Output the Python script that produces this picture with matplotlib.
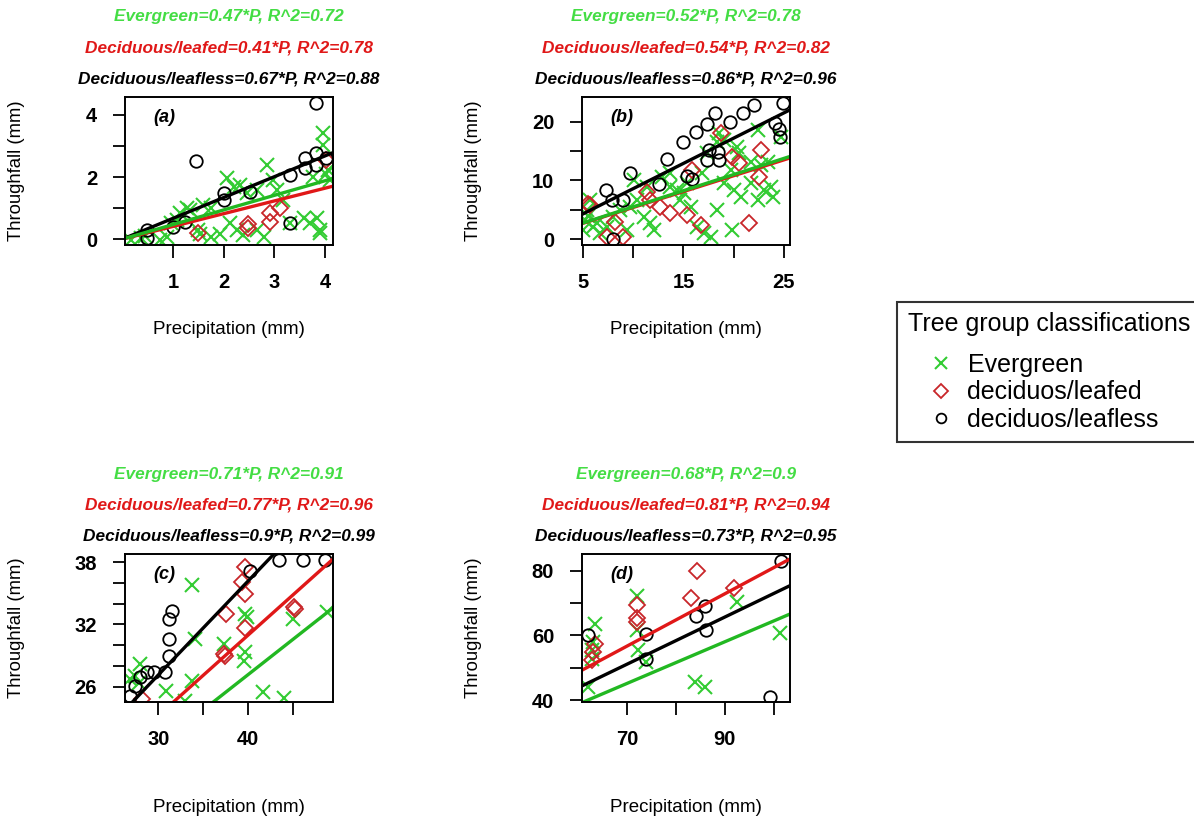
import numpy as np
import matplotlib.pyplot as plt
from matplotlib.lines import Line2D

plt.rcParams['font.family'] = ['Liberation Sans', 'DejaVu Sans']

# ---- panel (a)
a_ever_x = [0.16, 0.36, 0.75, 0.88, 1.14, 1.34, 1.54, 1.74, 1.93, 2.06, 2.2, 2.33, 2.13, 2.26, 2.39,
            2.66, 2.79, 2.85, 2.98, 3.05, 3.18, 3.58, 3.71, 3.84, 3.91, 3.97, 3.97, 4.07, 4.1, 3.77,
            1.28, 1.6, 1.74, 2.46, 2.66, 1.08, 0.95, 0.45, 1.5, 3.31, 4.02, 3.9]
a_ever_y = [-0.03, 0.02, -0.03, 0.07, 0.83, 0.94, 0.18, 0.07, 0.18, 1.96, 1.69, 1.74, 0.51, 0.29, 0.13,
            0.29, 0.07, 2.39, 1.9, 1.58, 1.26, 0.67, 0.51, 0.67, 0.29, 3.41, 3.03, 2.23, 1.9, 2.01,
            0.99, 1.1, 0.99, 1.47, 1.58, 0.61, 0.51, 0.1, 0.3, 0.53, 2.1, 0.2]
a_leafed_x = [1.49, 2.49, 2.49, 2.92, 2.92, 3.12, 4.02]
a_leafed_y = [0.2, 0.5, 0.35, 0.83, 0.56, 0.99, 2.55]
a_leafless_x = [3.82, 1.46, 0.49, 0.49, 1.0, 1.24, 2.0, 2.0, 2.52, 3.31, 3.31, 3.61, 3.61, 3.82, 3.82, 4.02]
a_leafless_y = [4.40, 2.52, 0.29, 0.03, 0.39, 0.56, 1.47, 1.26, 1.53, 2.06, 0.53, 2.6, 2.28, 2.76, 2.39, 2.6]

# ---- panel (b)
b_ever_x = [5.03, 5.2, 5.37, 5.7, 6.37, 6.7, 7.37, 8.03, 8.7, 9.37, 9.7, 10.37, 11.03, 11.7, 12.03,
            11.37, 13.7, 14.37, 14.7, 15.03, 15.37, 15.7, 16.37, 17.03, 17.7, 18.37, 19.03, 19.7, 20.03,
            20.7, 21.7, 22.37, 23.03, 23.7, 23.87, 18.53, 19.03, 18.37, 22.37, 23.37, 20.37, 20.53,
            24.7, 21.7, 22.7, 17.37, 16.87, 13.7, 12.87, 10.03, 19.87, 5.5, 6.0]
b_ever_y = [1.53, 3.23, 4.94, 6.64, 2.67, 0.96, 2.1, 3.8, 4.94, 1.53, 5.51, 6.64, 3.8, 2.67, 1.53,
            8.91, 8.91, 8.35, 6.64, 7.78, 9.48, 5.51, 2.1, 0.96, 0.4, 4.94, 9.48, 11.75, 8.35,
            7.21, 9.48, 6.64, 8.35, 8.91, 7.21, 18.0, 16.86, 16.58, 18.57, 13.17, 15.73, 14.59,
            17.43, 13.17, 12.6, 14.59, 11.18, 11.18, 10.62, 10.05, 1.53, 4.0, 2.0]
b_leafed_x = [5.53, 5.7, 7.37, 8.2, 9.03, 11.7, 12.7, 13.7, 15.37, 15.87, 16.7, 18.7, 19.87, 20.5,
              22.7, 22.53, 21.53, 11.37]
b_leafed_y = [6.0, 5.8, 0.4, 2.9, 0.4, 6.6, 5.5, 4.4, 4.1, 11.8, 2.4, 18.0, 14.0, 13.0,
              15.2, 10.6, 2.7, 8.1]
b_leafless_x = [24.87, 21.97, 20.97, 19.63, 18.1, 17.3, 16.2, 14.97, 13.37, 9.63, 12.53, 7.3, 7.87,
                9.03, 7.97, 15.37, 15.87, 17.53, 17.37, 18.53, 18.4, 24.1, 24.53, 24.63]
b_leafless_y = [23.2, 22.8, 21.4, 20.0, 21.4, 19.6, 18.3, 16.6, 13.7, 11.3, 9.4, 8.3, 6.6,
                6.6, -0.05, 10.7, 10.2, 15.2, 13.5, 13.5, 14.9, 19.8, 18.7, 17.4]

# ---- panel (c)
c_ever_x = [33.74, 28.0, 27.45, 27.82, 30.89, 34.11, 37.26, 39.67, 39.85, 39.67, 39.52, 44.96,
            48.74, 41.63, 43.93, 33.74, 26.89, 33.0]
c_ever_y = [35.78, 28.2, 27.07, 26.42, 25.62, 30.62, 30.13, 33.04, 32.71, 29.33, 28.52, 32.49,
            33.2, 25.55, 24.97, 26.58, 26.75, 24.6]
c_leafed_x = [39.67, 39.3, 39.67, 37.56, 39.67, 37.33, 37.45, 45.04, 45.22, 28.19]
c_leafed_y = [37.55, 36.1, 34.88, 33.04, 31.65, 29.17, 28.95, 33.68, 33.46, 24.81]
c_leafless_x = [43.37, 46.07, 48.56, 40.22, 31.52, 31.15, 31.15, 31.15, 30.78, 29.48, 28.74,
                28.0, 27.45, 26.89]
c_leafless_y = [38.2, 38.2, 38.2, 37.1, 33.26, 32.49, 30.62, 28.94, 27.46, 27.46, 27.39,
                26.91, 26.1, 25.13]

# ---- panel (d)
d_ever_x = [71.99, 71.99, 72.33, 73.9, 63.43, 63.09, 62.9, 62.06, 83.97, 86.02, 92.52, 101.28, 62.75]
d_ever_y = [72.3, 61.54, 55.38, 51.79, 63.59, 57.95, 55.5, 44.1, 45.64, 44.1, 70.25, 60.82, 52.82]
d_leafed_x = [84.31, 83.08, 91.84, 71.99, 71.99, 71.99, 63.43, 63.09, 62.75]
d_leafed_y = [80.0, 71.5, 74.56, 69.43, 65.33, 64.3, 57.43, 54.87, 52.31]
d_leafless_x = [101.56, 99.23, 86.02, 84.17, 86.23, 73.9, 73.9, 62.06]
d_leafless_y = [83.07, 41.0, 69.02, 65.95, 61.54, 60.51, 52.82, 60.0]

# regression text (as printed) and slope of the line drawn, per panel
ever_text = ['0.47', '0.52', '0.71', '0.68']
ever_r2 = ['0.72', '0.78', '0.91', '0.9']
leafed_text = ['0.41', '0.54', '0.77', '0.81']
leafed_r2 = ['0.78', '0.82', '0.96', '0.94']
leafless_text = ['0.67', '0.86', '0.9', '0.73']
leafless_r2 = ['0.88', '0.96', '0.99', '0.95']
ever_line = [0.47, 0.55, 0.68, 0.645]
leafed_line = [0.41, 0.54, 0.775, 0.81]
leafless_line = [0.67, 0.86, 0.905, 0.73]

tags = ['(a)', '(b)', '(c)', '(d)']
xlims = [(0.05, 4.16), (4.9, 25.6), (26.3, 49.4), (60.8, 103.3)]
ylims = [(-0.19, 4.58), (-1.0, 24.2), (24.55, 38.77), (39.4, 85.2)]
xticks = [[1, 2, 3, 4], [5, 10, 15, 20, 25], [30, 35, 40, 45], [70, 80, 90, 100]]
xticklabels = [['1', '2', '3', '4'], ['5', '', '15', '', '25'], ['30', '', '40', ''], ['70', '', '90', '']]
yticks = [[0, 1, 2, 3, 4], [0, 5, 10, 15, 20], [26, 28, 30, 32, 34, 36, 38], [40, 50, 60, 70, 80]]
yticklabels = [['0', '', '2', '', '4'], ['0', '', '10', '', '20'], ['26', '', '', '32', '', '', '38'],
               ['40', '', '60', '', '80']]

GREEN = '#33cc33'
GREEN_TXT = '#44dd44'
GREEN_LINE = '#22b822'
RED = '#e01818'
RED_MK = '#c8262a'

fig = plt.figure(figsize=(11.94, 8.23), dpi=100)
W, H = 1194, 823
boxes = [(125, 97), (582, 97), (125, 554), (582, 554)]  # left, top in pixels
bw, bh = 208, 148
xlab_off = [85, 85, 106, 106]  # distance of x label below the box, pixels

panels = [
    (a_ever_x, a_ever_y, a_leafed_x, a_leafed_y, a_leafless_x, a_leafless_y),
    (b_ever_x, b_ever_y, b_leafed_x, b_leafed_y, b_leafless_x, b_leafless_y),
    (c_ever_x, c_ever_y, c_leafed_x, c_leafed_y, c_leafless_x, c_leafless_y),
    (d_ever_x, d_ever_y, d_leafed_x, d_leafed_y, d_leafless_x, d_leafless_y),
]

for i, (ex, ey, lx, ly, bx, by) in enumerate(panels):
    left, top = boxes[i]
    ax = fig.add_axes([left / W, 1 - (top + bh) / H, bw / W, bh / H])

    ax.plot(ex, ey, 'x', color=GREEN, ms=10, mew=1.5)
    ax.plot(lx, ly, 'D', mfc='none', mec=RED_MK, ms=8, mew=1.3)
    ax.plot(bx, by, 'o', mfc='none', mec='black', ms=9, mew=1.3)

    xs = np.array(xlims[i])
    ax.plot(xs, leafless_line[i] * xs, color='black', lw=2.4)
    ax.plot(xs, leafed_line[i] * xs, color=RED, lw=2.4)
    ax.plot(xs, ever_line[i] * xs, color=GREEN_LINE, lw=2.4)

    ax.set_xlim(xlims[i])
    ax.set_ylim(ylims[i])
    ax.set_xticks(xticks[i])
    ax.set_xticklabels(xticklabels[i])
    ax.set_yticks(yticks[i])
    ax.set_yticklabels(yticklabels[i])
    ax.tick_params(direction='out', length=9, width=1.3, labelsize=14.5, pad=11)
    for lab in ax.get_xticklabels() + ax.get_yticklabels():
        lab.set_fontweight('bold')
    for sp in ax.spines.values():
        sp.set_linewidth(1.4)

    ax.text(0.135, 0.86, tags[i], transform=ax.transAxes, fontsize=13,
            fontweight='bold', fontstyle='italic', ha='left', va='center')

    ax.set_ylabel('Throughfall (mm)', fontsize=13.3)
    ax.yaxis.set_label_coords(-100 / bw, 0.5)
    ax.set_xlabel('Precipitation (mm)', fontsize=13.5)
    ax.xaxis.set_label_coords(0.5, -xlab_off[i] / bh)
    ax.xaxis.label.set_va('center')

    tk = dict(transform=ax.transAxes, ha='center', va='center', fontsize=12.4,
              fontweight='bold', fontstyle='italic')
    ax.text(0.5, 1 + 80 / bh, 'Evergreen=' + ever_text[i] + '*P, R^2=' + ever_r2[i], color=GREEN_TXT, **tk)
    ax.text(0.5, 1 + 49 / bh, 'Deciduous/leafed=' + leafed_text[i] + '*P, R^2=' + leafed_r2[i], color=RED, **tk)
    ax.text(0.5, 1 + 18 / bh, 'Deciduous/leafless=' + leafless_text[i] + '*P, R^2=' + leafless_r2[i],
            color='black', **tk)

handles = [
    Line2D([], [], ls='none', marker='x', color=GREEN, ms=9, mew=1.5),
    Line2D([], [], ls='none', marker='D', mfc='none', mec=RED_MK, ms=7, mew=1.3),
    Line2D([], [], ls='none', marker='o', mfc='none', mec='black', ms=7, mew=1.3),
]
leg = fig.legend(handles, ['Evergreen', 'deciduos/leafed', 'deciduos/leafless'],
                 title='Tree group classifications', loc='upper left',
                 bbox_to_anchor=(897 / W, 1 - 302 / H), fontsize=18, title_fontsize=18,
                 frameon=True, fancybox=False, edgecolor='black', borderaxespad=0,
                 handlelength=2.7, handletextpad=-0.3, labelspacing=0.13, alignment='left',
                 borderpad=0.42)
leg.get_frame().set_linewidth(1.5)
leg._legend_box.sep = 12

fig.savefig('out.png', dpi=100)
